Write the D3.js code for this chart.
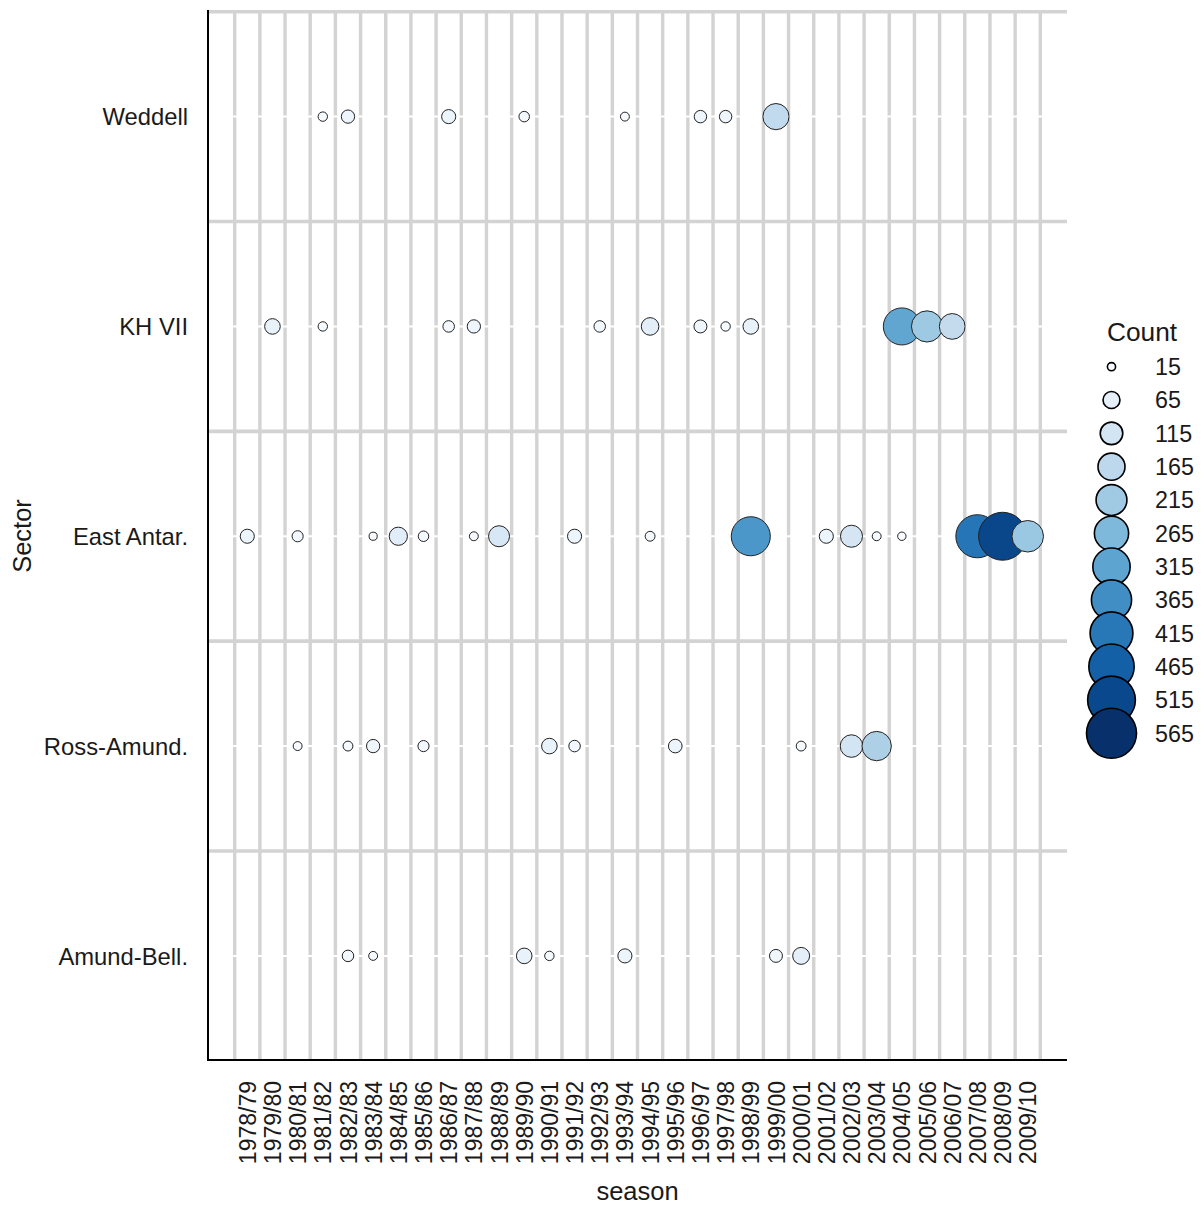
<!DOCTYPE html>
<html>
<head>
<meta charset="utf-8">
<script src="https://cdn.jsdelivr.net/npm/d3@7"></script>
<style>
  html, body { margin: 0; padding: 0; background: #fff; }
  svg { display: block; font-family: "Liberation Sans", Arial, sans-serif; }
</style>
</head>
<body>
<svg id="chart" width="1204" height="1205"></svg>
<script>
// ---------- data ----------
const seasons = ["1978/79","1979/80","1980/81","1981/82","1982/83","1983/84","1984/85","1985/86",
  "1986/87","1987/88","1988/89","1989/90","1990/91","1991/92","1992/93","1993/94","1994/95",
  "1995/96","1996/97","1997/98","1998/99","1999/00","2000/01","2001/02","2002/03","2003/04",
  "2004/05","2005/06","2006/07","2007/08","2008/09","2009/10"];
const sectors = ["Weddell","KH VII","East Antar.","Ross-Amund.","Amund-Bell."];

const weddellSeasons = ["1981/82","1982/83","1986/87","1989/90","1993/94","1996/97","1997/98","1999/00"];
const weddellCounts  = [20, 40, 45, 25, 18, 35, 35, 155];

const khSeasons = ["1979/80","1981/82","1986/87","1987/88","1992/93","1994/95","1996/97","1997/98","1998/99","2004/05","2005/06","2006/07"];
const khCounts  = [55, 20, 30, 40, 30, 70, 38, 20, 55, 310, 220, 150];

const eastSeasons = ["1978/79","1980/81","1983/84","1984/85","1985/86","1987/88","1988/89","1991/92","1994/95","1998/99","2001/02","2002/03","2003/04","2004/05","2007/08","2008/09","2009/10"];
const eastCounts  = [45, 28, 15, 75, 25, 18, 100, 45, 22, 345, 45, 110, 18, 16, 420, 520, 225];

const rossSeasons = ["1980/81","1982/83","1983/84","1985/86","1990/91","1991/92","1995/96","2000/01","2002/03","2003/04"];
const rossCounts  = [18, 22, 40, 28, 55, 30, 42, 22, 115, 195];

const amundSeasons = ["1982/83","1983/84","1989/90","1990/91","1993/94","1999/00","2000/01"];
const amundCounts  = [30, 18, 55, 20, 45, 38, 65];

const legendBreaks = [15, 65, 115, 165, 215, 265, 315, 365, 415, 465, 515, 565];

// ---------- build records ----------
const groups = [
  ["Weddell", weddellSeasons, weddellCounts],
  ["KH VII", khSeasons, khCounts],
  ["East Antar.", eastSeasons, eastCounts],
  ["Ross-Amund.", rossSeasons, rossCounts],
  ["Amund-Bell.", amundSeasons, amundCounts]
];
const records = [];
groups.forEach(([sector, ss, cs]) => {
  ss.forEach((s, i) => records.push({ sector, season: s, count: cs[i] }));
});

// ---------- layout ----------
const panel = { left: 208, right: 1067, top: 11.7, bottom: 1060.8 };
const svg = d3.select("#chart");

const x = d3.scalePoint().domain(seasons).range([panel.left, panel.right]).padding(1.56);
const y = d3.scalePoint().domain(sectors).range([panel.top, panel.bottom]).padding(0.5);
const r = d3.scaleSqrt().domain([0, 565]).range([0, 25]);
const color = d3.scaleSequential(d3.interpolateBlues).domain([15, 565]);

const gridColor = "#d3d3d3";
const step = x.step();

// vertical grey lines between seasons
const vlines = seasons.map(s => x(s) - step / 2).concat([x(seasons[seasons.length - 1]) + step / 2]);
svg.append("g").selectAll("line").data(vlines).join("line")
  .attr("x1", d => d).attr("x2", d => d)
  .attr("y1", panel.top).attr("y2", panel.bottom)
  .attr("stroke", gridColor).attr("stroke-width", 3.4);

// horizontal grey lines between sectors (and top)
const ystep = y.step();
const hlines = sectors.map(s => y(s) - ystep / 2);
svg.append("g").selectAll("line").data(hlines).join("line")
  .attr("x1", panel.left).attr("x2", panel.right)
  .attr("y1", d => d).attr("y2", d => d)
  .attr("stroke", gridColor).attr("stroke-width", 3.6);

// white lines through sector centres
svg.append("g").selectAll("line").data(sectors).join("line")
  .attr("x1", panel.left).attr("x2", panel.right)
  .attr("y1", d => y(d)).attr("y2", d => y(d))
  .attr("stroke", "#ffffff").attr("stroke-width", 2);

// points
svg.append("g").selectAll("circle")
  .data(records.slice().sort((a, b) => seasons.indexOf(a.season) - seasons.indexOf(b.season)))
  .join("circle")
  .attr("cx", d => x(d.season))
  .attr("cy", d => y(d.sector))
  .attr("r", d => r(d.count))
  .attr("fill", d => color(d.count))
  .attr("stroke", "#222")
  .attr("stroke-width", 1);

// axis lines
svg.append("line").attr("x1", panel.left).attr("x2", panel.left)
  .attr("y1", 10).attr("y2", 1061).attr("stroke", "#000").attr("stroke-width", 2);
svg.append("line").attr("x1", panel.left - 1).attr("x2", panel.right)
  .attr("y1", 1060).attr("y2", 1060).attr("stroke", "#000").attr("stroke-width", 2);

// x axis labels
const xAxis = d3.axisBottom(x).tickSize(0).tickPadding(0);
const gx = svg.append("g").attr("transform", "translate(0,1081)").call(xAxis);
gx.select(".domain").remove();
gx.selectAll("text")
  .attr("transform", "rotate(-90)")
  .attr("x", 0).attr("y", 0).attr("dy", "0.35em")
  .attr("text-anchor", "end")
  .attr("font-size", 23)
  .attr("font-family", "Liberation Sans, Arial, sans-serif")
  .attr("fill", "#1a1a1a");

// y axis labels
const yAxis = d3.axisLeft(y).tickSize(0).tickPadding(0);
const gy = svg.append("g").attr("transform", "translate(188,0)").call(yAxis);
gy.select(".domain").remove();
gy.selectAll("text")
  .attr("x", 0).attr("dy", "0.35em")
  .attr("text-anchor", "end")
  .attr("font-size", 23.8)
  .attr("font-family", "Liberation Sans, Arial, sans-serif")
  .attr("fill", "#1a1a1a");

// axis titles
svg.append("text").attr("x", (panel.left + panel.right) / 2).attr("y", 1200)
  .attr("text-anchor", "middle").attr("font-size", 25.5).attr("fill", "#1a1a1a").text("season");
svg.append("text").attr("transform", "translate(31,536) rotate(-90)")
  .attr("text-anchor", "middle").attr("font-size", 25.5).attr("fill", "#1a1a1a").text("Sector");

// legend
const lg = svg.append("g");
lg.append("text").attr("x", 1107).attr("y", 341).attr("font-size", 26.3)
  .attr("fill", "#1a1a1a").text("Count");
const ly = d3.scalePoint().domain(legendBreaks).range([366.7, 733.3]);
const items = lg.selectAll("g.item").data(legendBreaks).join("g").attr("class", "item");
items.append("circle")
  .attr("cx", 1111.5).attr("cy", d => ly(d))
  .attr("r", d => r(d))
  .attr("fill", d => color(d))
  .attr("stroke", "#000").attr("stroke-width", 1.6);
items.append("text")
  .attr("x", 1155).attr("y", d => ly(d)).attr("dy", "0.36em")
  .attr("font-size", 23.3).attr("fill", "#1a1a1a")
  .text(d => d);
</script>
</body>
</html>
